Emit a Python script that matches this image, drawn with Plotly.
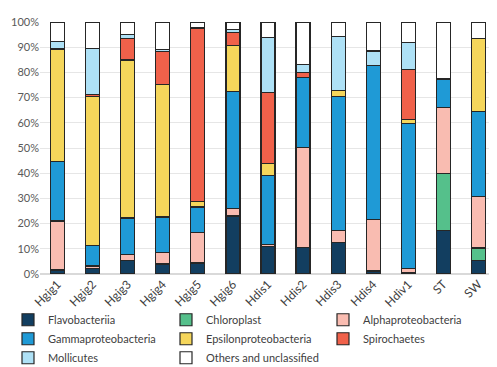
import plotly.graph_objects as go

samples = ["Hgig1", "Hgig2", "Hgig3", "Hgig4", "Hgig5", "Hgig6", "Hdis1",
           "Hdis2", "Hdis3", "Hdis4", "Hdiv1", "ST", "SW"]

flavobacteriia      = [1.6, 2.1, 5.5, 4.0, 4.4, 23.0, 10.8, 10.4, 12.4, 1.2, 0.5, 17.4, 5.5]
chloroplast         = [0, 0, 0, 0, 0, 0, 0, 0, 0, 0, 0, 22.6, 4.8]
alphaproteobacteria = [19.4, 1.1, 2.2, 4.5, 12.0, 3.0, 1.0, 39.7, 4.8, 20.3, 1.7, 26.2, 20.3]
gammaproteobacteria = [23.8, 8.2, 14.5, 14.1, 10.2, 46.3, 27.3, 28.0, 53.1, 61.1, 57.6, 11.2, 33.9]
epsilonproteobacteria = [44.5, 58.9, 62.7, 52.6, 2.3, 18.3, 4.6, 0, 2.6, 0, 1.6, 0, 28.8]
spirochaetes        = [0, 0.9, 8.6, 13.2, 68.7, 5.3, 28.2, 1.8, 0, 0, 19.8, 0, 0]
mollicutes          = [3.0, 18.2, 1.7, 0.8, 0.3, 1.1, 22.0, 3.2, 21.2, 5.9, 10.7, 0, 0]
others              = [7.7, 10.6, 4.8, 10.8, 2.1, 3.0, 6.1, 16.9, 5.9, 11.5, 8.1, 22.6, 6.7]

# (name, values, colour, legend column)
series = [
    ("Flavobacteriia", flavobacteriia, "#123e60", "legend"),
    ("Chloroplast", chloroplast, "#55c08b", "legend2"),
    ("Alphaproteobacteria", alphaproteobacteria, "#f9bcb1", "legend3"),
    ("Gammaproteobacteria", gammaproteobacteria, "#1f9ad6", "legend"),
    ("Epsilonproteobacteria", epsilonproteobacteria, "#f5d65b", "legend2"),
    ("Spirochaetes", spirochaetes, "#f0614a", "legend3"),
    ("Mollicutes", mollicutes, "#aee1f6", "legend"),
    ("Others and unclassified", others, "#ffffff", "legend2"),
]

fig = go.Figure()
for name, vals, color, leg in series:
    fig.add_trace(go.Bar(
        x=samples, y=vals, name=name, legend=leg,
        marker=dict(color=color, line=dict(color="#262626", width=1.2)),
    ))

legend_common = dict(
    orientation="v", traceorder="normal",
    xref="container", yref="container",
    xanchor="left", y=0.19, yanchor="top",
    font=dict(size=11, color="#404040"),
    itemwidth=30, tracegroupgap=0, bgcolor="rgba(0,0,0,0)",
)

fig.update_layout(
    barmode="stack",
    bargap=0.6,
    width=497, height=367,
    margin=dict(l=32, r=9, t=14, b=101, autoexpand=False),
    plot_bgcolor="white", paper_bgcolor="white",
    font=dict(family="Lato, Liberation Sans, sans-serif", size=11, color="#404040"),
    showlegend=True,
    legend=dict(x=0.0, **legend_common),
    legend2=dict(x=158 / 497, **legend_common),
    legend3=dict(x=315 / 497, **legend_common),
)
fig.update_yaxes(
    range=[0, 100], dtick=10, ticksuffix="%",
    showgrid=True, gridcolor="#e6e6e6", gridwidth=1,
    zeroline=True, zerolinecolor="#d9d9d9",
    tickfont=dict(size=11, color="#595959"),
)
fig.update_xaxes(
    tickangle=-45, tickfont=dict(size=12, color="#404040"),
    showline=False,
)

fig.write_html("out.html")
